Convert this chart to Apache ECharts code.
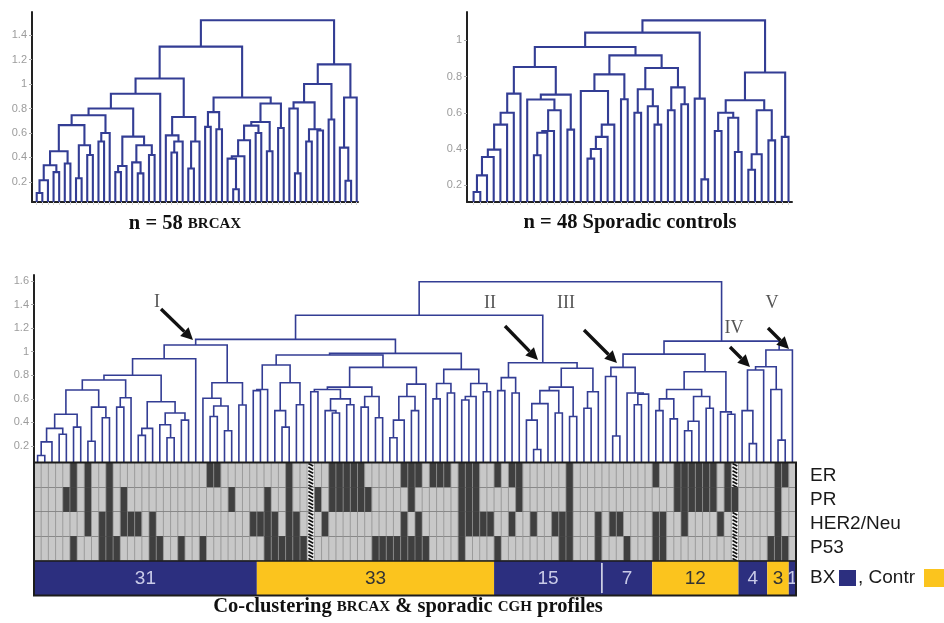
<!DOCTYPE html>
<html><head><meta charset="utf-8">
<script src="https://cdn.jsdelivr.net/npm/echarts@6.0.0/dist/echarts.min.js"></script>
<style>html,body{margin:0;padding:0;background:#fff}#c{width:944px;height:623px}</style>
</head><body><div id="c"></div>
<script>
// ---------- DATA ----------
// Dendrograms as nested arrays: internal node = [mergeHeight, left, right]; leaf = 0 (leaves in drawing order)
const treeBRCAX = [1.52,
  [1.305,
    [1.045,
      [0.92,
        [0.80,
          [0.745,
            [0.664,
              [0.45, [0.336, [0.214, [0.11, 0, 0], 0], [0.28, 0, 0]], [0.35, 0, 0]],
              [0.5, [0.23, 0, 0], [0.42, 0, 0]]],
            [0.6, [0.53, 0, 0], 0]],
          [0.57, [0.33, [0.28, 0, 0], 0], [0.5, [0.36, 0, [0.27, 0, 0]], [0.42, 0, 0]]]],
        0],
      [0.73, [0.58, 0, [0.53, [0.44, 0, 0], 0]], [0.53, [0.31, 0, 0], 0]]],
    [0.89,
      [0.77, [0.65, 0, 0], [0.63, 0, 0]],
      [0.84,
        [0.69, [0.66, [0.54, [0.41, [0.39, 0, [0.14, 0, 0]], 0], 0], [0.6, 0, 0]], [0.45, 0, 0]],
        [0.64, 0, 0]]]],
  [1.16,
    [1.0, [0.85, [0.8, 0, [0.27, 0, 0]], [0.63, [0.53, 0, 0], [0.62, 0, 0]]], [0.71, 0, 0]],
    [0.89, [0.48, 0, [0.21, 0, 0]], 0]]];

const treeControls = [1.11,
  [1.042,
    [0.963,
      [0.853,
        [0.706, [0.6, [0.535, [0.397, [0.356, [0.255, [0.163, 0, 0], 0], 0], 0], 0], 0], 0],
        [0.7, [0.673, 0, [0.614, [0.5, [0.49, [0.366, 0, 0], 0], 0], 0]], [0.507, 0, 0]]],
      [0.917,
        [0.812, [0.72, 0, [0.535, [0.467, [0.4, [0.347, 0, 0], 0], 0], 0]], [0.675, 0, 0]],
        [0.847, [0.73, [0.6, 0, 0], [0.636, 0, [0.535, 0, 0]]], [0.74, [0.614, 0, 0], [0.647, 0, 0]]]]],
    [0.678, 0, [0.233, 0, 0]]],
  [0.822,
    [0.669,
      [0.6, [0.5, 0, 0], [0.573, 0, [0.384, 0, 0]]],
      [0.614, [0.371, [0.286, 0, 0], 0], [0.448, 0, 0]]],
    [0.467, 0, 0]]];

const treeCombined = [1.594,
  [1.31,
    [1.105,
      [1.057,
        [0.94,
          [0.80,
            [0.76,
              [0.675,
                [0.47, [0.35, [0.235, [0.12, 0, 0], 0], [0.3, 0, 0]], [0.36, 0, 0]],
                [0.53, [0.24, 0, 0], [0.44, 0, 0]]],
              [0.61, [0.53, 0, 0], 0]],
            [0.576, [0.35, [0.29, 0, 0], 0], [0.48, [0.38, 0, [0.27, 0, 0]], [0.42, 0, 0]]]],
          0],
        [0.737, [0.605, 0, [0.54, [0.45, 0, 0], [0.33, 0, 0]]], [0.548, 0, 0]]],
      [0.986,
        [0.972,
          [0.887, [0.68, [0.67, 0, 0], 0], [0.737, [0.5, 0, [0.36, 0, 0]], [0.55, 0, 0]]],
          [0.867,
            [0.70, [0.68, [0.66, 0, 0], [0.6, [0.5, 0, [0.48, 0, 0]], [0.55, 0, 0]]], [0.62, [0.53, 0, 0], [0.44, 0, 0]]],
            [0.725, [0.62, [0.42, [0.27, 0, 0], 0], [0.5, 0, 0]], 0]]],
        [0.85, [0.73, [0.6, 0, 0], [0.65, 0, 0]], [0.73, [0.62, [0.59, 0, 0], 0], [0.66, 0, 0]]]]],
    [0.907,
      [0.78, [0.67, 0, 0], [0.65, 0, 0]],
      [0.86, [0.70, [0.67, [0.56, [0.42, 0, [0.17, 0, 0]], 0], [0.48, 0, 0]], [0.45, 0, 0]], [0.66, [0.52, 0, 0], 0]]]],
  [1.09,
    [0.98,
      [0.867, [0.79, 0, [0.285, 0, 0]], [0.65, 0, [0.64, [0.55, 0, 0], 0]]],
      [0.83,
        [0.68, [0.6, [0.5, 0, 0], [0.43, 0, 0]], [0.62, [0.41, [0.33, 0, 0], 0], [0.52, 0, 0]]],
        [0.49, 0, [0.47, 0, 0]]]],
    [1.015, [0.873, [0.845, [0.5, 0, [0.22, 0, 0]], 0], [0.68, 0, [0.25, 0, 0]]], 0]]];

const ticksBRCAX = [0.2, 0.4, 0.6, 0.8, 1, 1.2, 1.4];
const ticksControls = [0.2, 0.4, 0.6, 0.8, 1];
const ticksCombined = [0.2, 0.4, 0.6, 0.8, 1, 1.2, 1.4, 1.6];

// Marker rows (0 = negative/light, 1 = positive/dark, 2 = missing/hatched)
const markerNames = ['ER', 'PR', 'HER2/Neu', 'P53'];
const rowER = [0,0,0,0,0,1,0,1,0,0, 1,0,0,0,0,0,0,0,0,0, 0,0,0,0,1,1,0,0,0,0, 0,0,0,0,0,1,0,0,2,0,
  0,1,1,1,1,1,0,0,0,0, 0,1,1,1,0,1,1,1,0,1, 1,1,0,0,1,0,1,1,0,0, 0,0,0,0,1,0,0,0,0,0,
  0,0,0,0,0,0,1,0,0,1, 1,1,1,1,1,0,1,2,0,0, 0,0,0,1,1,0];
const rowPR = [0,0,0,0,1,1,0,1,0,0, 1,0,1,0,0,0,0,0,0,0, 0,0,0,0,0,0,0,1,0,0, 0,0,1,0,0,1,0,0,2,1,
  0,1,1,1,1,1,1,0,0,0, 0,0,1,0,0,0,0,0,0,1, 1,1,0,0,0,0,0,1,0,0, 0,0,0,0,1,0,0,0,0,0,
  0,0,0,0,0,0,0,0,0,1, 1,1,1,1,1,0,1,1,0,0, 0,0,0,1,0,0];
const rowHER2 = [0,0,0,0,0,0,0,1,0,1, 1,0,1,1,1,0,1,0,0,0, 0,0,0,0,0,0,0,0,0,0, 1,1,1,1,0,1,1,0,2,0,
  1,0,0,0,0,0,0,0,0,0, 0,1,0,1,0,0,0,0,0,1, 1,1,1,1,0,0,1,0,0,1, 0,0,1,1,1,0,0,0,1,0,
  1,1,0,0,0,0,1,1,0,0, 1,0,0,0,0,1,0,2,0,0, 0,0,0,1,0,0];
const rowP53 = [0,0,0,0,0,1,0,0,0,1, 1,1,0,0,0,0,1,1,0,0, 1,0,0,1,0,0,0,0,0,0, 0,0,1,1,1,1,1,1,2,0,
  0,0,0,0,0,0,0,1,1,1, 1,1,1,1,1,0,0,0,0,1, 0,0,0,0,1,0,0,0,0,0, 0,0,0,1,1,0,0,0,1,0,
  0,0,1,0,0,0,1,1,0,0, 0,0,0,0,0,0,0,2,0,0, 0,0,1,1,1,0];

// Group bar: counts of consecutive samples and their origin
const groupCounts = [31, 33, 15, 7, 12, 4, 3, 1];
const groupTypes = ['BX', 'Contr', 'BX', 'BX', 'Contr', 'BX', 'Contr', 'BX'];

// ---------- STYLE ----------
const BLUE = '#2c2f7f', YELLOW = '#fbc41e', LINE = '#333d94';
const SERIF = '"Liberation Serif","DejaVu Serif",serif';
const SANS = '"Liberation Sans",Arial,sans-serif';

function layoutTree(tree, base) {
  let idx = 0; const segs = [];
  function walk(node) {
    if (!Array.isArray(node)) return { x: idx++, h: base };
    const l = walk(node[1]), r = walk(node[2]);
    segs.push([l.x, l.h, r.x, r.h, node[0]]);
    return { x: (l.x + r.x) / 2, h: node[0] };
  }
  walk(tree);
  return { segs, count: idx };
}

const ext = [
  { xmin: -0.84, xmax: 57.23, ymin: 0.036, ymax: 1.588 },
  { xmin: -0.985, xmax: 47.52, ymin: 0.108, ymax: 1.156 },
  { xmin: -0.5, xmax: 105.5, ymin: 0.056, ymax: 1.651 }
];
const trees = [layoutTree(treeBRCAX, ext[0].ymin), layoutTree(treeControls, ext[1].ymin), layoutTree(treeCombined, ext[2].ymin)];
const tickSets = [ticksBRCAX, ticksControls, ticksCombined];

function bracketRenderer(w) {
  return function (params, api) {
    const a = api.coord([api.value(0), api.value(1)]);
    const b = api.coord([api.value(0), api.value(4)]);
    const c = api.coord([api.value(2), api.value(4)]);
    const d = api.coord([api.value(2), api.value(3)]);
    return { type: 'polyline', shape: { points: [a, b, c, d] }, style: { stroke: LINE, lineWidth: w, fill: 'none' } };
  };
}

const grids = [
  { left: 32, top: 12, width: 326, height: 190 },
  { left: 467, top: 12, width: 325, height: 190 },
  { left: 34, top: 275, width: 762, height: 188 },
  { left: 34, top: 463, width: 762, height: 98 },
  { left: 34, top: 561, width: 762, height: 34 }
];

const xAxes = [], yAxes = [], series = [];
for (let g = 0; g < 3; g++) {
  const e = ext[g];
  const leafIdx = Array.from({ length: trees[g].count }, (_, i) => i);
  xAxes.push({
    gridIndex: g, type: 'value', min: e.xmin, max: e.xmax,
    axisLine: { show: g < 2, onZero: false, lineStyle: { color: '#222', width: 2 } },
    axisTick: { show: g < 2, customValues: leafIdx, length: 3, lineStyle: { color: '#d6d6d6' } },
    axisLabel: { show: false }, splitLine: { show: false }
  });
  yAxes.push({
    gridIndex: g, type: 'value', min: e.ymin, max: e.ymax,
    axisLine: { show: true, onZero: false, lineStyle: { color: '#222', width: 2 } },
    axisTick: { show: true, customValues: tickSets[g], length: 3, lineStyle: { color: '#aaa' } },
    axisLabel: { customValues: tickSets[g], color: '#9c9c9c', fontSize: 11, fontFamily: SANS, margin: 5, formatter: v => String(v) },
    splitLine: { show: false }
  });
  series.push({
    type: 'custom', xAxisIndex: g, yAxisIndex: g, silent: true, clip: false,
    data: trees[g].segs, renderItem: bracketRenderer(g < 2 ? 2.1 : 1.6), z: 3
  });
}

// Heatmap
xAxes.push({ gridIndex: 3, type: 'category', data: Array.from({ length: 106 }, (_, i) => i), show: false });
yAxes.push({ gridIndex: 3, type: 'category', data: markerNames, inverse: true, show: false });
const rows = [rowER, rowPR, rowHER2, rowP53];
const cellData = [];
rows.forEach((r, ri) => r.forEach((v, ci) => cellData.push([ci, ri, v])));
series.push({
  type: 'custom', xAxisIndex: 3, yAxisIndex: 3, silent: true, data: cellData,
  renderItem: function (params, api) {
    const c = api.coord([api.value(0), api.value(1)]);
    const s = api.size([1, 1]);
    const x = c[0] - s[0] / 2, y = c[1] - s[1] / 2, w = s[0], h = s[1];
    const v = api.value(2);
    const ch = [];
    if (v === 2) {
      ch.push({ type: 'rect', shape: { x, y, width: w, height: h }, style: { fill: '#f2f2f2' } });
      for (let yy = y + 0.5; yy < y + h - 1; yy += 3.6) {
        ch.push({ type: 'line', shape: { x1: x + 1.2, y1: yy, x2: x + w - 1.2, y2: Math.min(yy + 2.6, y + h) }, style: { stroke: '#111', lineWidth: 1.7 } });
      }
    } else {
      ch.push({ type: 'rect', shape: { x, y, width: w, height: h }, style: { fill: v ? '#3f3f3f' : '#c8c8c8' } });
    }
    ch.push({ type: 'line', shape: { x1: x, y1: y, x2: x, y2: y + h }, style: { stroke: '#8c8c8c', lineWidth: 0.8 } });
    ch.push({ type: 'line', shape: { x1: x, y1: y + h, x2: x + w, y2: y + h }, style: { stroke: '#4a4a4a', lineWidth: 1 } });
    return { type: 'group', children: ch };
  }
});

// Group bar
xAxes.push({ gridIndex: 4, type: 'value', min: 0, max: 106, show: false });
yAxes.push({ gridIndex: 4, type: 'value', min: 0, max: 1, show: false });
const barData = [];
let acc = 0;
groupCounts.forEach((n, i) => {
  barData.push([acc, n, groupTypes[i] === 'BX' ? 0 : 1, i > 0 && groupTypes[i - 1] === groupTypes[i] ? 1 : 0]);
  acc += n;
});
series.push({
  type: 'custom', xAxisIndex: 4, yAxisIndex: 4, silent: true, data: barData,
  renderItem: function (params, api) {
    const s = api.value(0), n = api.value(1), t = api.value(2), sep = api.value(3);
    const p0 = api.coord([s, 1]), p1 = api.coord([s + n, 0]);
    const ch = [{ type: 'rect', shape: { x: p0[0], y: p0[1], width: p1[0] - p0[0], height: p1[1] - p0[1] }, style: { fill: t ? YELLOW : BLUE } }];
    if (sep) ch.push({ type: 'line', shape: { x1: p0[0], y1: p0[1] + 2, x2: p0[0], y2: p1[1] - 2 }, style: { stroke: '#e6e8f4', lineWidth: 1.5 } });
    ch.push({
      type: 'text', x: (p0[0] + p1[0]) / 2, y: (p0[1] + p1[1]) / 2 + 1,
      style: { text: String(n), textAlign: 'center', textVerticalAlign: 'middle',
        font: '19px "Liberation Sans Narrow","Liberation Sans",sans-serif', fill: t ? '#333' : '#c9cbe8' }
    });
    return { type: 'group', children: ch };
  }
});

// ---------- ANNOTATIONS ----------
function arrow(x1, y1, x2, y2) {
  const a = Math.atan2(y2 - y1, x2 - x1), hl = 12, hw = 6;
  const bx = x2 - hl * Math.cos(a), by = y2 - hl * Math.sin(a);
  const px = -Math.sin(a) * hw, py = Math.cos(a) * hw;
  return [
    { type: 'line', z: 50, shape: { x1, y1, x2: bx, y2: by }, style: { stroke: '#111', lineWidth: 3.4 } },
    { type: 'polygon', z: 50, shape: { points: [[x2, y2], [bx + px, by + py], [bx - px, by - py]] }, style: { fill: '#111' } }
  ];
}
function label(t, x, y, font, fill, align) {
  return { type: 'text', z: 50, x, y, style: { text: t, font, fill, textAlign: align || 'center', textVerticalAlign: 'middle' } };
}
const romanFont = '18px ' + SERIF;
const capA = { fontFamily: SERIF, fontWeight: 'bold', fontSize: 20.5, fill: '#111' };
const capB = { fontFamily: SERIF, fontWeight: 'bold', fontSize: 15, fill: '#111' };
const graphics = [
  label('I', 157, 302, romanFont, '#555'),
  label('II', 490, 303, romanFont, '#555'),
  label('III', 566, 303, romanFont, '#555'),
  label('IV', 734, 328, romanFont, '#555'),
  label('V', 772, 303, romanFont, '#555'),
  ...arrow(161, 309, 193, 340),
  ...arrow(505, 326, 538, 360),
  ...arrow(584, 330, 617, 363),
  ...arrow(730, 347, 750, 367),
  ...arrow(768, 328, 789, 349),
  // outline of marker panel
  { type: 'rect', z: 60, shape: { x: 34, y: 462.5, width: 762, height: 133 }, style: { fill: 'none', stroke: '#1c1c1c', lineWidth: 2 } },
  { type: 'line', z: 60, shape: { x1: 34, y1: 561, x2: 796, y2: 561 }, style: { stroke: '#1c1c1c', lineWidth: 1.5 } },
  // right labels
  label('ER', 810, 476, '19px ' + SANS, '#1a1a1a', 'left'),
  label('PR', 810, 500, '19px ' + SANS, '#1a1a1a', 'left'),
  label('HER2/Neu', 810, 524, '19px ' + SANS, '#1a1a1a', 'left'),
  label('P53', 810, 548, '19px ' + SANS, '#1a1a1a', 'left'),
  label('BX', 810, 578, '19px ' + SANS, '#1a1a1a', 'left'),
  { type: 'rect', z: 50, shape: { x: 839, y: 570, width: 17, height: 16 }, style: { fill: BLUE } },
  label(', Contr', 858, 578, '19px ' + SANS, '#1a1a1a', 'left'),
  { type: 'rect', z: 50, shape: { x: 924, y: 569, width: 20, height: 18 }, style: { fill: YELLOW } },
  // captions
  { type: 'text', z: 50, x: 185, y: 224, style: { text: '{a|n = 58 }{b|BRCAX}', textAlign: 'center', textVerticalAlign: 'middle', rich: { a: capA, b: capB } } },
  { type: 'text', z: 50, x: 630, y: 223, style: { text: '{a|n = 48 Sporadic controls}', textAlign: 'center', textVerticalAlign: 'middle', rich: { a: capA } } },
  { type: 'text', z: 50, x: 408, y: 607, style: { text: '{a|Co-clustering }{b|BRCAX}{a| & sporadic }{b|CGH}{a| profiles}', textAlign: 'center', textVerticalAlign: 'middle', rich: { a: capA, b: capB } } }
];

const chart = echarts.init(document.getElementById('c'), null, { renderer: 'canvas' });
chart.setOption({
  animation: false,
  backgroundColor: '#fff',
  grid: grids,
  xAxis: xAxes,
  yAxis: yAxes,
  series: series,
  graphic: graphics
});
</script></body></html>
